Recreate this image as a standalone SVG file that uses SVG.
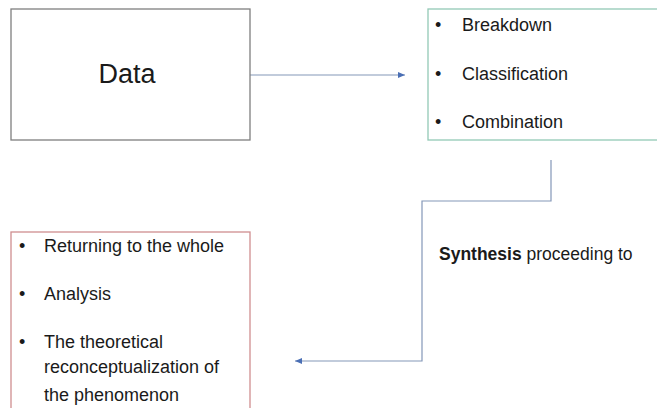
<svg xmlns="http://www.w3.org/2000/svg" width="657" height="408" viewBox="0 0 657 408">
<style>
text{font-family:"Liberation Sans",Arial,sans-serif;fill:#1a1a1a;}
.b{font-size:18px;}
.box{fill:#fff;stroke-width:1.3;}
.conn{fill:none;stroke:#8497b8;stroke-width:1.2;}
</style>
<defs>
<marker id="ah" markerWidth="8" markerHeight="6" refX="7" refY="3" orient="auto" markerUnits="userSpaceOnUse">
<path d="M0,0 L7,3 L0,6 Z" fill="#4a6fb5"/>
</marker>
</defs>
<rect width="657" height="408" fill="#fff"/>
<g id="connectors">
<path class="conn" d="M250,75 H405" marker-end="url(#ah)"/>
<path class="conn" d="M551,160 V201 H422 V361 H295" marker-end="url(#ah)"/>
</g>
<g id="data">
<rect class="box" x="11" y="9" width="239" height="131" stroke="#7f7f7f"/>
<text x="127" y="83" font-size="27" text-anchor="middle">Data</text>
</g>
<g id="steps">
<rect class="box" x="428" y="9" width="240" height="131" stroke="#93c9b6"/>
<text class="b" x="435" y="31">•</text><text class="b" x="462" y="31">Breakdown</text>
<text class="b" x="435" y="80">•</text><text class="b" x="462" y="80">Classification</text>
<text class="b" x="435" y="128">•</text><text class="b" x="462" y="128">Combination</text>
</g>
<g id="label">
<text x="439" y="260" font-size="17.5"><tspan font-weight="bold">Synthesis</tspan> proceeding to</text>
</g>
<g id="result">
<rect class="box" x="11" y="232" width="239" height="200" stroke="#cf8e90"/>
<text class="b" x="19" y="252">•</text><text class="b" x="44" y="252">Returning to the whole</text>
<text class="b" x="19" y="300">•</text><text class="b" x="44" y="300">Analysis</text>
<text class="b" x="19" y="348">•</text><text class="b" x="44" y="348">The theoretical</text>
<text class="b" x="44" y="373">reconceptualization of</text>
<text class="b" x="44" y="401">the phenomenon</text>
</g>
</svg>
